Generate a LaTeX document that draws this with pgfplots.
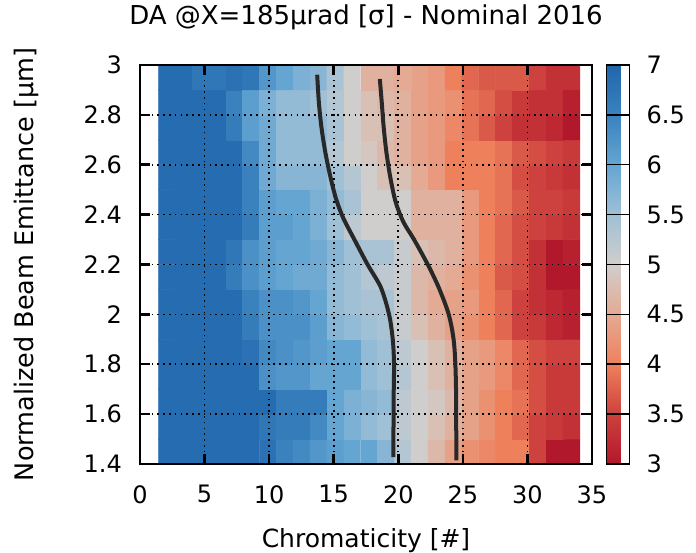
\documentclass[border=0pt]{standalone}
\usepackage{fontspec}
\setmainfont{DejaVu Sans}
\usepackage{pgfplots}
\pgfplotsset{compat=1.18}
\pgfkeys{/pgf/number format/assume math mode=true}
\definecolor{curvegray}{RGB}{40,40,40}
\pgfplotsset{
  tick label style={font=\fontsize{24bp}{28bp}\selectfont},
}
\begin{document}
\begin{tikzpicture}
\begin{axis}[
  set layers, axis on top,
  scale only axis, width=452bp, height=399bp,
  xmin=0, xmax=35, ymin=1.4, ymax=3,
  xtick={0,5,10,15,20,25,30,35},
  ytick={1.4,1.6,1.8,2,2.2,2.4,2.6,2.8,3},
  tick align=inside, major tick length=10bp,
  tick style={line width=2.5bp, black},
  axis line style={line width=2bp, black},
  grid=major,
  grid style={black, line width=1.6bp, dash pattern=on 1.6bp off 4.2bp},
  xticklabel style={inner sep=0pt, anchor=north, yshift=-21bp},
  yticklabel style={inner sep=0pt, anchor=east, xshift=-18bp},
  colormap={rdbu}{rgb255=(178,24,43) rgb255=(205,65,62) rgb255=(238,128,92) rgb255=(228,170,148) rgb255=(208,206,204) rgb255=(160,192,214) rgb255=(100,165,210) rgb255=(58,130,190) rgb255=(33,102,172)},
  point meta min=3, point meta max=7,
  colorbar,
  colorbar style={
    at={(parent axis.north east)}, anchor=north west, xshift=6bp,
    scale only axis, width=23bp, height=399bp,
    ytick={3,3.5,4,4.5,5,5.5,6,6.5,7},
    ymajorgrids, grid style={black, solid, line width=1.5bp},
    major tick length=0pt,
    axis line style={line width=1.5bp, black},
    axis on top,
    yticklabel style={inner sep=0pt, anchor=west, xshift=17bp, font=\fontsize{24bp}{28bp}\selectfont},
  },
  title={DA @X=185μrad [σ] - Nominal 2016},
  title style={at={(axis description cs:0.5,1.0877)}, anchor=base, font=\fontsize{26bp}{30bp}\selectfont},
  xlabel={Chromaticity [\#]},
  xlabel style={at={(axis description cs:0.5,-0.2105)}, anchor=base, font=\fontsize{25bp}{30bp}\selectfont},
  ylabel={Normalized Beam Emittance [μm]},
  ylabel style={at={(axis description cs:-0.2522,0.5)}, anchor=center, font=\fontsize{25.5bp}{30bp}\selectfont},
]
\addplot[matrix plot*, mesh/cols=25, point meta=explicit] table[meta=z, row sep=\\] {
x y z\\
2.07 1.45 6.9\\ 3.38 1.45 6.9\\ 4.68 1.45 6.9\\ 5.99 1.45 6.9\\ 7.29 1.45 6.9\\ 8.60 1.45 6.9\\ 9.91 1.45 6.8\\ 11.21 1.45 6.5\\ 12.52 1.45 6.4\\ 13.82 1.45 6.2\\ 15.13 1.45 6.1\\ 16.44 1.45 6.0\\ 17.74 1.45 6.0\\ 19.05 1.45 5.7\\ 20.35 1.45 5.3\\ 21.66 1.45 5.0\\ 22.97 1.45 4.7\\ 24.27 1.45 4.4\\ 25.58 1.45 4.2\\ 26.88 1.45 4.1\\ 28.19 1.45 4.0\\ 29.50 1.45 4.0\\ 30.80 1.45 3.5\\ 32.11 1.45 3.0\\ 33.41 1.45 3.0\\
2.07 1.55 6.9\\ 3.38 1.55 6.9\\ 4.68 1.55 6.9\\ 5.99 1.55 6.9\\ 7.29 1.55 6.9\\ 8.60 1.55 6.9\\ 9.91 1.55 6.7\\ 11.21 1.55 6.6\\ 12.52 1.55 6.6\\ 13.82 1.55 6.4\\ 15.13 1.55 6.0\\ 16.44 1.55 5.8\\ 17.74 1.55 5.6\\ 19.05 1.55 5.5\\ 20.35 1.55 5.2\\ 21.66 1.55 5.0\\ 22.97 1.55 4.8\\ 24.27 1.55 4.6\\ 25.58 1.55 4.4\\ 26.88 1.55 4.2\\ 28.19 1.55 4.0\\ 29.50 1.55 3.8\\ 30.80 1.55 3.5\\ 32.11 1.55 3.4\\ 33.41 1.55 3.3\\
2.07 1.65 6.9\\ 3.38 1.65 6.9\\ 4.68 1.65 6.9\\ 5.99 1.65 6.9\\ 7.29 1.65 6.9\\ 8.60 1.65 6.9\\ 9.91 1.65 6.9\\ 11.21 1.65 6.6\\ 12.52 1.65 6.6\\ 13.82 1.65 6.6\\ 15.13 1.65 6.0\\ 16.44 1.65 5.8\\ 17.74 1.65 5.7\\ 19.05 1.65 5.6\\ 20.35 1.65 5.2\\ 21.66 1.65 5.0\\ 22.97 1.65 4.9\\ 24.27 1.65 4.7\\ 25.58 1.65 4.4\\ 26.88 1.65 4.2\\ 28.19 1.65 4.0\\ 29.50 1.65 3.9\\ 30.80 1.65 3.6\\ 32.11 1.65 3.4\\ 33.41 1.65 3.4\\
2.07 1.75 6.9\\ 3.38 1.75 6.9\\ 4.68 1.75 6.9\\ 5.99 1.75 6.9\\ 7.29 1.75 6.9\\ 8.60 1.75 6.9\\ 9.91 1.75 6.3\\ 11.21 1.75 6.2\\ 12.52 1.75 6.2\\ 13.82 1.75 6.0\\ 15.13 1.75 6.0\\ 16.44 1.75 6.0\\ 17.74 1.75 5.6\\ 19.05 1.75 5.5\\ 20.35 1.75 5.3\\ 21.66 1.75 5.0\\ 22.97 1.75 4.8\\ 24.27 1.75 4.6\\ 25.58 1.75 4.4\\ 26.88 1.75 4.3\\ 28.19 1.75 4.1\\ 29.50 1.75 3.8\\ 30.80 1.75 3.6\\ 32.11 1.75 3.4\\ 33.41 1.75 3.4\\
2.07 1.85 6.9\\ 3.38 1.85 6.9\\ 4.68 1.85 6.9\\ 5.99 1.85 6.9\\ 7.29 1.85 6.9\\ 8.60 1.85 6.8\\ 9.91 1.85 6.4\\ 11.21 1.85 6.3\\ 12.52 1.85 6.2\\ 13.82 1.85 6.1\\ 15.13 1.85 6.0\\ 16.44 1.85 6.0\\ 17.74 1.85 5.6\\ 19.05 1.85 5.5\\ 20.35 1.85 5.2\\ 21.66 1.85 5.0\\ 22.97 1.85 4.8\\ 24.27 1.85 4.6\\ 25.58 1.85 4.4\\ 26.88 1.85 4.3\\ 28.19 1.85 4.1\\ 29.50 1.85 3.8\\ 30.80 1.85 3.6\\ 32.11 1.85 3.5\\ 33.41 1.85 3.5\\
2.07 1.95 6.9\\ 3.38 1.95 6.9\\ 4.68 1.95 6.9\\ 5.99 1.95 6.9\\ 7.29 1.95 6.9\\ 8.60 1.95 6.6\\ 9.91 1.95 6.3\\ 11.21 1.95 6.3\\ 12.52 1.95 6.3\\ 13.82 1.95 6.1\\ 15.13 1.95 5.7\\ 16.44 1.95 5.6\\ 17.74 1.95 5.5\\ 19.05 1.95 5.4\\ 20.35 1.95 5.1\\ 21.66 1.95 4.8\\ 22.97 1.95 4.6\\ 24.27 1.95 4.4\\ 25.58 1.95 4.2\\ 26.88 1.95 4.0\\ 28.19 1.95 3.8\\ 29.50 1.95 3.5\\ 30.80 1.95 3.4\\ 32.11 1.95 3.2\\ 33.41 1.95 3.1\\
2.07 2.05 6.9\\ 3.38 2.05 6.9\\ 4.68 2.05 6.9\\ 5.99 2.05 6.9\\ 7.29 2.05 6.9\\ 8.60 2.05 6.5\\ 9.91 2.05 6.3\\ 11.21 2.05 6.3\\ 12.52 2.05 6.2\\ 13.82 2.05 6.0\\ 15.13 2.05 5.6\\ 16.44 2.05 5.5\\ 17.74 2.05 5.4\\ 19.05 2.05 5.4\\ 20.35 2.05 5.1\\ 21.66 2.05 4.7\\ 22.97 2.05 4.5\\ 24.27 2.05 4.4\\ 25.58 2.05 4.3\\ 26.88 2.05 4.0\\ 28.19 2.05 3.8\\ 29.50 2.05 3.5\\ 30.80 2.05 3.3\\ 32.11 2.05 3.2\\ 33.41 2.05 3.1\\
2.07 2.15 6.9\\ 3.38 2.15 6.9\\ 4.68 2.15 6.9\\ 5.99 2.15 6.9\\ 7.29 2.15 6.6\\ 8.60 2.15 6.3\\ 9.91 2.15 6.1\\ 11.21 2.15 6.0\\ 12.52 2.15 5.9\\ 13.82 2.15 5.9\\ 15.13 2.15 5.6\\ 16.44 2.15 5.5\\ 17.74 2.15 5.3\\ 19.05 2.15 5.2\\ 20.35 2.15 5.1\\ 21.66 2.15 4.7\\ 22.97 2.15 4.6\\ 24.27 2.15 4.5\\ 25.58 2.15 4.2\\ 26.88 2.15 4.0\\ 28.19 2.15 3.7\\ 29.50 2.15 3.6\\ 30.80 2.15 3.3\\ 32.11 2.15 3.0\\ 33.41 2.15 3.0\\
2.07 2.25 6.9\\ 3.38 2.25 6.9\\ 4.68 2.25 6.9\\ 5.99 2.25 6.9\\ 7.29 2.25 6.7\\ 8.60 2.25 6.3\\ 9.91 2.25 6.1\\ 11.21 2.25 6.0\\ 12.52 2.25 6.0\\ 13.82 2.25 5.9\\ 15.13 2.25 5.7\\ 16.44 2.25 5.5\\ 17.74 2.25 5.4\\ 19.05 2.25 5.4\\ 20.35 2.25 5.1\\ 21.66 2.25 4.8\\ 22.97 2.25 4.7\\ 24.27 2.25 4.6\\ 25.58 2.25 4.3\\ 26.88 2.25 4.0\\ 28.19 2.25 3.8\\ 29.50 2.25 3.6\\ 30.80 2.25 3.3\\ 32.11 2.25 3.0\\ 33.41 2.25 3.1\\
2.07 2.35 6.9\\ 3.38 2.35 6.9\\ 4.68 2.35 6.9\\ 5.99 2.35 6.9\\ 7.29 2.35 6.9\\ 8.60 2.35 6.6\\ 9.91 2.35 6.1\\ 11.21 2.35 6.1\\ 12.52 2.35 6.0\\ 13.82 2.35 5.8\\ 15.13 2.35 5.5\\ 16.44 2.35 5.2\\ 17.74 2.35 5.0\\ 19.05 2.35 5.0\\ 20.35 2.35 5.0\\ 21.66 2.35 4.6\\ 22.97 2.35 4.6\\ 24.27 2.35 4.6\\ 25.58 2.35 4.3\\ 26.88 2.35 4.0\\ 28.19 2.35 3.8\\ 29.50 2.35 3.6\\ 30.80 2.35 3.5\\ 32.11 2.35 3.4\\ 33.41 2.35 3.3\\
2.07 2.45 6.9\\ 3.38 2.45 6.9\\ 4.68 2.45 6.9\\ 5.99 2.45 6.9\\ 7.29 2.45 6.9\\ 8.60 2.45 6.5\\ 9.91 2.45 6.1\\ 11.21 2.45 6.0\\ 12.52 2.45 6.0\\ 13.82 2.45 5.8\\ 15.13 2.45 5.6\\ 16.44 2.45 5.4\\ 17.74 2.45 5.0\\ 19.05 2.45 5.0\\ 20.35 2.45 5.0\\ 21.66 2.45 4.6\\ 22.97 2.45 4.6\\ 24.27 2.45 4.6\\ 25.58 2.45 4.3\\ 26.88 2.45 4.0\\ 28.19 2.45 3.9\\ 29.50 2.45 3.7\\ 30.80 2.45 3.5\\ 32.11 2.45 3.5\\ 33.41 2.45 3.4\\
2.07 2.55 6.9\\ 3.38 2.55 6.9\\ 4.68 2.55 6.9\\ 5.99 2.55 6.9\\ 7.29 2.55 6.9\\ 8.60 2.55 6.5\\ 9.91 2.55 5.9\\ 11.21 2.55 5.7\\ 12.52 2.55 5.7\\ 13.82 2.55 5.7\\ 15.13 2.55 5.5\\ 16.44 2.55 5.3\\ 17.74 2.55 5.0\\ 19.05 2.55 4.8\\ 20.35 2.55 4.8\\ 21.66 2.55 4.5\\ 22.97 2.55 4.3\\ 24.27 2.55 4.0\\ 25.58 2.55 4.0\\ 26.88 2.55 4.0\\ 28.19 2.55 3.9\\ 29.50 2.55 3.6\\ 30.80 2.55 3.5\\ 32.11 2.55 3.4\\ 33.41 2.55 3.3\\
2.07 2.65 6.9\\ 3.38 2.65 6.9\\ 4.68 2.65 6.9\\ 5.99 2.65 6.9\\ 7.29 2.65 6.9\\ 8.60 2.65 6.4\\ 9.91 2.65 5.9\\ 11.21 2.65 5.6\\ 12.52 2.65 5.6\\ 13.82 2.65 5.6\\ 15.13 2.65 5.3\\ 16.44 2.65 5.0\\ 17.74 2.65 4.9\\ 19.05 2.65 4.7\\ 20.35 2.65 4.6\\ 21.66 2.65 4.4\\ 22.97 2.65 4.3\\ 24.27 2.65 4.0\\ 25.58 2.65 4.0\\ 26.88 2.65 4.0\\ 28.19 2.65 3.9\\ 29.50 2.65 3.7\\ 30.80 2.65 3.6\\ 32.11 2.65 3.5\\ 33.41 2.65 3.4\\
2.07 2.75 6.9\\ 3.38 2.75 6.9\\ 4.68 2.75 6.9\\ 5.99 2.75 6.9\\ 7.29 2.75 6.6\\ 8.60 2.75 6.1\\ 9.91 2.75 5.9\\ 11.21 2.75 5.6\\ 12.52 2.75 5.6\\ 13.82 2.75 5.6\\ 15.13 2.75 5.4\\ 16.44 2.75 5.0\\ 17.74 2.75 4.8\\ 19.05 2.75 4.8\\ 20.35 2.75 4.6\\ 21.66 2.75 4.4\\ 22.97 2.75 4.3\\ 24.27 2.75 4.1\\ 25.58 2.75 3.9\\ 26.88 2.75 3.7\\ 28.19 2.75 3.5\\ 29.50 2.75 3.3\\ 30.80 2.75 3.3\\ 32.11 2.75 3.2\\ 33.41 2.75 3.0\\
2.07 2.85 6.9\\ 3.38 2.85 6.9\\ 4.68 2.85 6.9\\ 5.99 2.85 6.9\\ 7.29 2.85 6.5\\ 8.60 2.85 6.1\\ 9.91 2.85 5.8\\ 11.21 2.85 5.6\\ 12.52 2.85 5.6\\ 13.82 2.85 5.5\\ 15.13 2.85 5.3\\ 16.44 2.85 5.0\\ 17.74 2.85 4.8\\ 19.05 2.85 4.7\\ 20.35 2.85 4.6\\ 21.66 2.85 4.4\\ 22.97 2.85 4.3\\ 24.27 2.85 4.2\\ 25.58 2.85 3.9\\ 26.88 2.85 3.8\\ 28.19 2.85 3.6\\ 29.50 2.85 3.4\\ 30.80 2.85 3.3\\ 32.11 2.85 3.3\\ 33.41 2.85 3.1\\
2.07 2.95 6.9\\ 3.38 2.95 6.9\\ 4.68 2.95 6.7\\ 5.99 2.95 6.7\\ 7.29 2.95 6.8\\ 8.60 2.95 6.7\\ 9.91 2.95 6.2\\ 11.21 2.95 6.0\\ 12.52 2.95 5.8\\ 13.82 2.95 5.7\\ 15.13 2.95 5.4\\ 16.44 2.95 5.0\\ 17.74 2.95 4.6\\ 19.05 2.95 4.6\\ 20.35 2.95 4.5\\ 21.66 2.95 4.4\\ 22.97 2.95 4.3\\ 24.27 2.95 4.0\\ 25.58 2.95 3.8\\ 26.88 2.95 3.7\\ 28.19 2.95 3.7\\ 29.50 2.95 3.7\\ 30.80 2.95 3.5\\ 32.11 2.95 3.3\\ 33.41 2.95 3.3\\
};
\addplot[smooth, line width=4bp, curvegray, on layer=axis foreground] coordinates {
(13.72,2.961) (13.85,2.85) (14.05,2.75) (14.35,2.65) (14.75,2.55) (15.2,2.46) (15.75,2.385) (16.59,2.301) (17.62,2.20) (18.65,2.108) (19.28,2.001) (19.57,1.901) (19.67,1.80) (19.64,1.66) (19.62,1.428)
};
\addplot[smooth, line width=4bp, curvegray, on layer=axis foreground] coordinates {
(18.57,2.944) (18.72,2.85) (18.87,2.75) (19.08,2.65) (19.38,2.55) (19.8,2.45) (20.4,2.37) (21.21,2.301) (22.28,2.20) (23.13,2.108) (23.90,2.001) (24.28,1.901) (24.42,1.80) (24.48,1.66) (24.49,1.415)
};
\end{axis}
\pgfresetboundingbox
\path[use as bounding box] (-140bp,-89bp) rectangle (556bp,464bp);
\end{tikzpicture}
\end{document}
